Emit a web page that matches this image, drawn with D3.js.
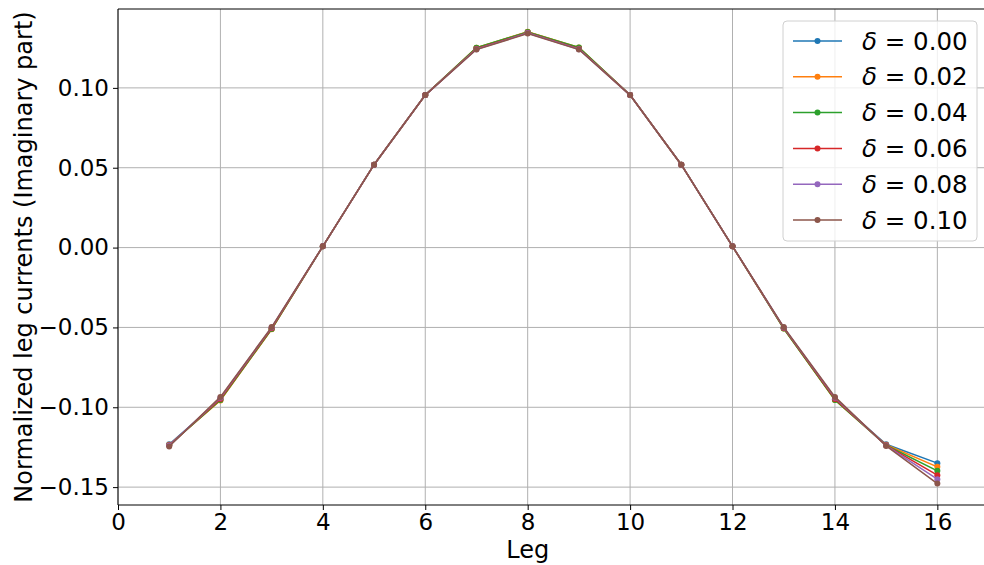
<!DOCTYPE html>
<html>
<head>
<meta charset="utf-8">
<script src="https://cdn.jsdelivr.net/npm/d3@7"></script>
<style>
  body { margin: 0; background: #fff; }
  text { font-family: "DejaVu Sans", sans-serif; fill: #000; }
</style>
</head>
<body>
<svg id="chart" width="984" height="565"></svg>
<script>
var legs = d3.range(1, 17); // leg index 1..16
var deltas = ["0.00", "0.02", "0.04", "0.06", "0.08", "0.10"];
var colors = ["#1f77b4", "#ff7f0e", "#2ca02c", "#d62728", "#9467bd", "#8c564b"];

// values, one array per delta
var d000 = [-0.1232, -0.0950, -0.0510, 0.0008, 0.0519, 0.0955, 0.1248, 0.1350, 0.1248, 0.0955, 0.0519, 0.0008, -0.0505, -0.0950, -0.1232, -0.1350];
var d002 = [-0.1235, -0.0958, -0.0512, 0.0008, 0.0519, 0.0955, 0.1252, 0.1352, 0.1253, 0.0955, 0.0519, 0.0008, -0.0507, -0.0955, -0.1235, -0.1373];
var d004 = [-0.1238, -0.0955, -0.0510, 0.0008, 0.0519, 0.0955, 0.1252, 0.1350, 0.1253, 0.0955, 0.0519, 0.0008, -0.0507, -0.0955, -0.1238, -0.1398];
var d006 = [-0.1238, -0.0948, -0.0505, 0.0008, 0.0519, 0.0955, 0.1245, 0.1345, 0.1245, 0.0955, 0.0519, 0.0008, -0.0503, -0.0948, -0.1238, -0.1425];
var d008 = [-0.1240, -0.0940, -0.0500, 0.0008, 0.0519, 0.0955, 0.1242, 0.1343, 0.1242, 0.0955, 0.0519, 0.0008, -0.0500, -0.0940, -0.1240, -0.1450];
var d010 = [-0.1245, -0.0935, -0.0498, 0.0008, 0.0519, 0.0955, 0.1240, 0.1340, 0.1240, 0.0955, 0.0519, 0.0008, -0.0498, -0.0935, -0.1242, -0.1478];
var series = [d000, d002, d004, d006, d008, d010];

var xTicks = [0, 2, 4, 6, 8, 10, 12, 14, 16];
var yTicks = [-0.15, -0.10, -0.05, 0.00, 0.05, 0.10];

var margin = {left: 118, top: 9};
var svg = d3.select("#chart");
var plotBottom = 505;
var plotRight = 986;

var x = d3.scaleLinear().domain([0, 16.95]).range([margin.left, plotRight]);
var y = d3.scaleLinear().domain([-0.1612, 0.1494]).range([plotBottom, margin.top]);

var fmt = function(v) {
  var s = d3.format(".2f")(Math.abs(v));
  return (v < 0 ? "\u2212" : "") + s;
};

// grid
var grid = svg.append("g");
grid.selectAll(".gx").data(xTicks).enter().append("line")
  .attr("x1", d => x(d)).attr("x2", d => x(d))
  .attr("y1", margin.top).attr("y2", plotBottom)
  .attr("stroke", "#b0b0b0").attr("stroke-width", 1);
grid.selectAll(".gy").data(yTicks).enter().append("line")
  .attr("x1", margin.left).attr("x2", plotRight)
  .attr("y1", d => y(d)).attr("y2", d => y(d))
  .attr("stroke", "#b0b0b0").attr("stroke-width", 1);

// axes
var xAxis = d3.axisBottom(x).tickValues(xTicks).tickSize(5).tickPadding(4).tickFormat(d3.format("d"));
var yAxis = d3.axisLeft(y).tickValues(yTicks).tickSize(5).tickPadding(4).tickFormat(fmt);

var gx = svg.append("g").attr("transform", "translate(0," + plotBottom + ")").call(xAxis);
var gy = svg.append("g").attr("transform", "translate(" + margin.left + ",0)").call(yAxis);
[gx, gy].forEach(function(g) {
  g.select(".domain").remove();
  g.selectAll(".tick line").attr("stroke", "#000").attr("stroke-width", 1);
  g.selectAll("text").style("font-size", "23px").attr("fill", "#000");
});

// spines
svg.append("line").attr("x1", margin.left).attr("x2", margin.left)
  .attr("y1", margin.top).attr("y2", plotBottom).attr("stroke", "#000").attr("stroke-width", 1);
svg.append("line").attr("x1", margin.left).attr("x2", plotRight)
  .attr("y1", plotBottom).attr("y2", plotBottom).attr("stroke", "#000").attr("stroke-width", 1);
svg.append("line").attr("x1", margin.left).attr("x2", plotRight)
  .attr("y1", margin.top).attr("y2", margin.top).attr("stroke", "#000").attr("stroke-width", 1);

// axis labels
svg.append("text").attr("x", x(8)).attr("y", 558)
  .attr("text-anchor", "middle").style("font-size", "24px").text("Leg");
svg.append("text")
  .attr("transform", "translate(32," + ((margin.top + plotBottom) / 2) + ") rotate(-90)")
  .attr("text-anchor", "middle").style("font-size", "24px")
  .text("Normalized leg currents (Imaginary part)");

// lines
var line = d3.line().x((d, i) => x(legs[i])).y(d => y(d));
series.forEach(function(vals, k) {
  var g = svg.append("g");
  g.append("path").datum(vals).attr("d", line)
    .attr("fill", "none").attr("stroke", colors[k]).attr("stroke-width", 1.5);
  g.selectAll("circle").data(vals).enter().append("circle")
    .attr("cx", (d, i) => x(legs[i])).attr("cy", d => y(d)).attr("r", 3)
    .attr("fill", colors[k]);
});

// legend
var lg = svg.append("g").attr("transform", "translate(783,21)");
lg.append("rect").attr("width", 194).attr("height", 220).attr("rx", 4)
  .attr("fill", "#fff").attr("fill-opacity", 0.8)
  .attr("stroke", "#d0d0d0").attr("stroke-width", 1);
deltas.forEach(function(dl, k) {
  var yy = 20 + k * 35.8;
  lg.append("line").attr("x1", 10).attr("x2", 59).attr("y1", yy).attr("y2", yy)
    .attr("stroke", colors[k]).attr("stroke-width", 1.5);
  lg.append("circle").attr("cx", 34.5).attr("cy", yy).attr("r", 3).attr("fill", colors[k]);
  var t = lg.append("text").attr("x", 79).attr("y", yy + 8.5).style("font-size", "24.5px");
  t.append("tspan").style("font-style", "italic").text("\u03b4");
  t.append("tspan").text(" = " + dl);
});
</script>
</body>
</html>
